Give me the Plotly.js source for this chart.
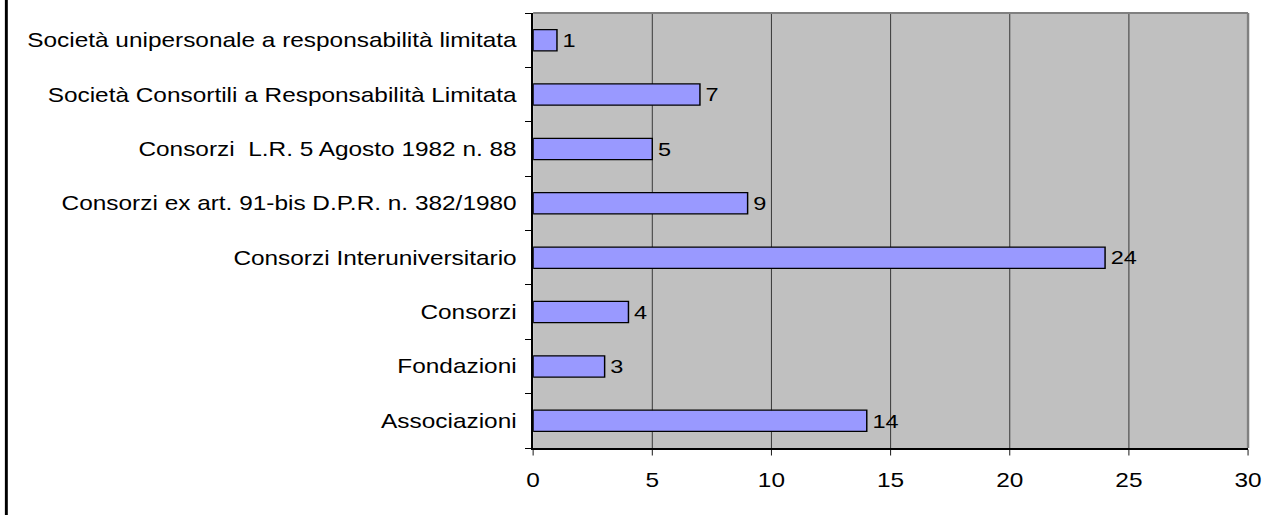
<!DOCTYPE html>
<html>
<head>
<meta charset="utf-8">
<script src="https://cdn.plot.ly/plotly-3.0.1.min.js"></script>
<style>
html, body { margin: 0; padding: 0; background: #ffffff; overflow: hidden; }
#wrap { width: 1264px; height: 515px; overflow: hidden; position: relative; }
#chart { position: absolute; left: 0; top: 0; transform-origin: 0 0; }
</style>
</head>
<body>
<div id="wrap"><div id="chart"></div></div>
<script>
// Data (bottom to top, as Plotly stacks categories upward)
const categories = [
  "Associazioni",
  "Fondazioni",
  "Consorzi",
  "Consorzi Interuniversitario",
  "Consorzi ex art. 91-bis D.P.R. n. 382/1980",
  "Consorzi\u00a0 L.R. 5 Agosto 1982 n. 88",
  "Società Consortili a Responsabilità Limitata",
  "Società unipersonale a responsabilità limitata"
];
const values = [14, 3, 4, 24, 9, 5, 7, 1];
const xTickVals = [0, 5, 10, 15, 20, 25, 30];

// Horizontal stretch to reproduce the wide glyphs of the original
const S = 1.22;
const W = 1264 / S;
const H = 515;
const ml = 533.5 / S, mr = 15.3 / S, mt = 13.3, mb = 67;
const pw = W - ml - mr, ph = H - mt - mb;

const font = { family: "Liberation Sans, Arial, sans-serif", size: 20, color: "#000000" };

const trace = {
  type: "bar",
  orientation: "h",
  y: categories,
  x: values,
  text: values.map(v => "\u200A" + v),
  textposition: "outside",
  cliponaxis: false,
  textfont: font,
  marker: { color: "#9999FF", line: { color: "#000000", width: 1.2 } },
  hoverinfo: "none"
};

const layout = {
  width: W,
  height: H,
  margin: { l: ml, r: mr, t: mt, b: mb, pad: 0 },
  paper_bgcolor: "#ffffff",
  plot_bgcolor: "#C0C0C0",
  showlegend: false,
  bargap: 0.61,
  font: font,
  xaxis: {
    range: [0, 30],
    tickvals: xTickVals,
    ticktext: xTickVals.map(String),
    showgrid: true,
    gridcolor: "#2a2a2a",
    gridwidth: 1 / S,
    zeroline: false,
    showline: true,
    linecolor: "#000000",
    linewidth: 1.5,
    ticks: "outside",
    ticklen: 6,
    tickwidth: 1 / S,
    tickcolor: "#000000",
    ticklabelstandoff: 8,
    tickfont: font,
    fixedrange: true
  },
  yaxis: {
    type: "category",
    categoryorder: "array",
    categoryarray: categories,
    tickson: "boundaries",
    showgrid: false,
    zeroline: false,
    showline: true,
    linecolor: "#000000",
    linewidth: 1.5,
    ticks: "outside",
    ticklen: 5.5,
    tickwidth: 1,
    tickcolor: "#000000",
    ticklabelstandoff: 8,
    tickfont: font,
    fixedrange: true
  },
  shapes: [
    { type: "line", xref: "paper", yref: "paper", x0: 0, x1: 1, y0: 1, y1: 1,
      line: { color: "#808080", width: 2 } },
    { type: "line", xref: "paper", yref: "paper", x0: 1, x1: 1, y0: 0, y1: 1,
      line: { color: "#808080", width: 2 } },
    { type: "line", xref: "paper", yref: "paper",
      x0: (6.5 / S - ml) / pw, x1: (6.5 / S - ml) / pw,
      y0: -mb / ph, y1: 1 + mt / ph,
      line: { color: "#000000", width: 2.4 } }
  ]
};

Plotly.newPlot("chart", [trace], layout, { displayModeBar: false, staticPlot: true }).then(function () {
  document.getElementById("chart").style.transform = "scaleX(" + S + ")";
});
</script>
</body>
</html>
